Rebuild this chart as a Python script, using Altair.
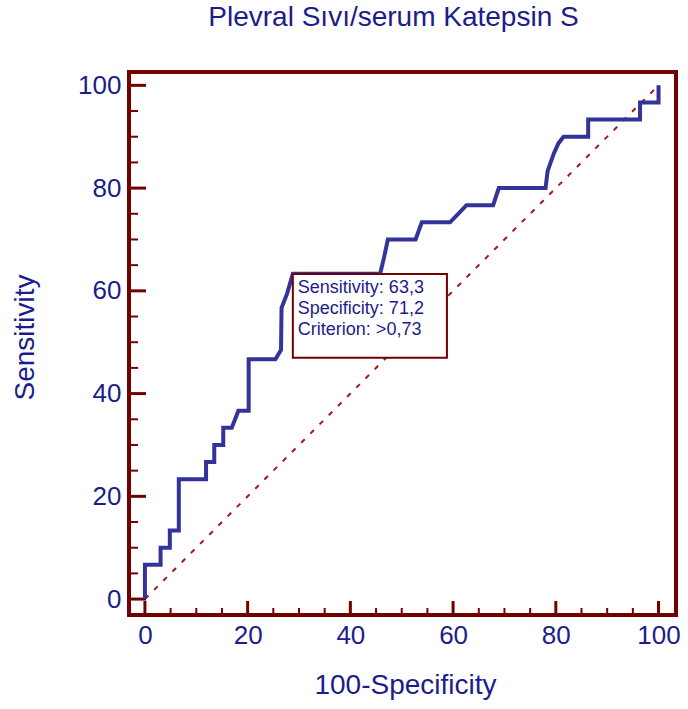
import altair as alt
import pandas as pd

# ROC curve (100-Specificity, Sensitivity)
fpr = [0, 0, 3.05, 3.05, 4.85, 4.85, 6.6, 6.6, 11.9, 11.9, 13.5, 13.5, 15.25, 15.25,
       16.9, 18.2, 20.2, 20.2, 25.4, 26.5, 26.6, 27.7, 28.8, 45.8, 46.6, 47.3, 52.7,
       53.9, 59.4, 61.0, 62.6, 67.8, 68.9, 78.0, 78.4, 79.0, 79.6, 80.5, 81.5, 86.3, 86.3,
       96.4, 96.4, 100, 100]
tpr = [0, 6.67, 6.67, 10, 10, 13.33, 13.33, 23.33, 23.33, 26.67, 26.67, 30, 30, 33.33,
       33.33, 36.67, 36.67, 46.67, 46.67, 48.5, 56.7, 59.5, 63.33, 63.33, 66.7, 70, 70,
       73.33, 73.33, 75, 76.67, 76.67, 80, 80, 83.3, 85.0, 86.7, 88.7, 90, 90, 93.33,
       93.33, 96.67, 96.67, 100]

diag_x = [0, 100]
diag_y = [0, 100]

op_sens = 63.3
op_spec = 71.2
op_crit = ">0,73"
box_w = 30.0   # box size in data units
box_h = 16.3

title_text = "Plevral Sıvı/serum Katepsin S"
x_title = "100-Specificity"
y_title = "Sensitivity"
tick_vals = [0, 20, 40, 60, 80, 100]
minor_vals = [v for v in range(0, 101, 5) if v % 20 != 0]

NAVY = "#1c1c8a"
CURVE = "#33339a"
RED = "#720000"
FONT = "Liberation Sans"

W, H = 547, 543
xdom = [-3.1, 103.4]
ydom = [-3.1, 102.6]

curve_df = pd.DataFrame({"x": fpr, "y": tpr, "o": list(range(len(fpr)))})
diag_df = pd.DataFrame({"x": diag_x, "y": diag_y})
op_x = round(100 - op_spec, 1)
box_df = pd.DataFrame({"x": [op_x], "x2": [op_x + box_w], "y": [op_sens], "y2": [op_sens - box_h],
                       "label": [f"Sensitivity: {op_sens:.1f}".replace(".", ",") + "\n" +
                                 f"Specificity: {op_spec:.1f}".replace(".", ",") + "\n" +
                                 f"Criterion: {op_crit}"]})
major_df = pd.DataFrame({"v": tick_vals})
minor_df = pd.DataFrame({"v": minor_vals})

xs = alt.Scale(domain=xdom, nice=False, zero=False)
ys = alt.Scale(domain=ydom, nice=False, zero=False)

x_axis = alt.Axis(values=tick_vals, ticks=False, domain=False, grid=False,
                  labelFontSize=26, labelColor=NAVY, labelFont=FONT, labelPadding=7,
                  title=x_title, titleFontSize=28, titleColor=NAVY, titleFont=FONT,
                  titleFontWeight="normal", titleX=276, titleY=70, titleBaseline="middle",
                  titleAlign="center", labelFlush=False)
y_axis = alt.Axis(values=tick_vals, ticks=False, domain=False, grid=False,
                  labelFontSize=26, labelColor=NAVY, labelFont=FONT, labelPadding=8,
                  title=y_title, titleFontSize=28, titleColor=NAVY, titleFont=FONT,
                  titleFontWeight="normal", titleX=-104, titleY=265, titleAngle=270,
                  titleBaseline="middle", titleAlign="center", labelFlush=False)

diag = alt.Chart(diag_df).mark_line(color="#a01818", strokeWidth=2, strokeDash=[5, 8]).encode(
    x=alt.X("x:Q", scale=xs, axis=x_axis),
    y=alt.Y("y:Q", scale=ys, axis=y_axis),
)

curve = alt.Chart(curve_df).mark_line(color=CURVE, strokeWidth=4, strokeJoin="miter",
                                      interpolate="linear").encode(
    x=alt.X("x:Q", scale=xs),
    y=alt.Y("y:Q", scale=ys),
    order="o:Q",
)

box = alt.Chart(box_df).mark_rect(fill="white", stroke=RED, strokeWidth=2).encode(
    x=alt.X("x:Q", scale=xs), x2="x2:Q",
    y=alt.Y("y:Q", scale=ys), y2="y2:Q",
)

box_text = alt.Chart(box_df).mark_text(align="left", baseline="top", dx=5, dy=5,
                                       fontSize=18, font=FONT, color=NAVY,
                                       lineBreak="\n", lineHeight=21).encode(
    x=alt.X("x:Q", scale=xs), y=alt.Y("y:Q", scale=ys), text="label:N",
)

x_major = alt.Chart(major_df).mark_rule(color=RED, strokeWidth=3).encode(
    x=alt.X("v:Q", scale=xs), y=alt.value(H), y2=alt.value(H - 14))
x_minor = alt.Chart(minor_df).mark_rule(color=RED, strokeWidth=2).encode(
    x=alt.X("v:Q", scale=xs), y=alt.value(H), y2=alt.value(H - 7))
y_major = alt.Chart(major_df).mark_rule(color=RED, strokeWidth=3).encode(
    y=alt.Y("v:Q", scale=ys), x=alt.value(0), x2=alt.value(17))
y_minor = alt.Chart(minor_df).mark_rule(color=RED, strokeWidth=2).encode(
    y=alt.Y("v:Q", scale=ys), x=alt.value(0), x2=alt.value(9))

chart = alt.layer(diag, x_major, x_minor, y_major, y_minor, curve, box, box_text).properties(
    width=W, height=H,
    autosize=alt.AutoSizeParams(type="none"),
    padding={"left": 129, "top": 72, "right": 12, "bottom": 94},
    title=alt.TitleParams(text=title_text, fontSize=28, font=FONT, color=NAVY,
                          fontWeight="normal", anchor="middle", dx=-9, offset=40),
    background="white",
).configure_view(stroke=RED, strokeWidth=4)

chart.save("out.html", embed_options={"renderer": "svg", "actions": False})
